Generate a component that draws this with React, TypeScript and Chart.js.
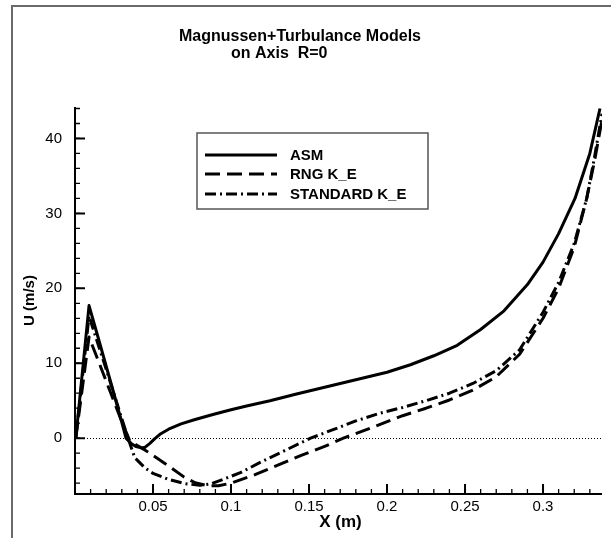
import React, { useEffect, useRef } from 'react';
import { Chart, registerables } from 'chart.js';

Chart.register(...registerables);

// ---------------- data ----------------
const titleLines = ['Magnussen+Turbulance Models', 'on Axis  R=0'];
const xAxisTitle = 'X (m)';
const yAxisTitle = 'U (m/s)';
const seriesNames = ['ASM', 'RNG K_E', 'STANDARD K_E'];

const asmX = [0.0005, 0.009, 0.015, 0.02, 0.025, 0.03, 0.0327, 0.036, 0.039, 0.0428, 0.045, 0.048, 0.051, 0.055, 0.06, 0.068, 0.077, 0.089, 0.1, 0.11, 0.125, 0.142, 0.16, 0.174, 0.19, 0.2, 0.215, 0.23, 0.245, 0.26, 0.275, 0.29, 0.3, 0.31, 0.3205, 0.33, 0.3365];
const asmY = [0, 17.7, 13.3, 9.6, 5.9, 2.1, 0, -0.7, -1.1, -1.3, -1.2, -0.7, -0.1, 0.6, 1.2, 1.9, 2.5, 3.2, 3.8, 4.3, 5.0, 5.9, 6.8, 7.5, 8.3, 8.8, 9.8, 11.0, 12.4, 14.5, 17.0, 20.5, 23.5, 27.3, 32.0, 38.0, 44.0];

const rngX = [0.0005, 0.009, 0.015, 0.02, 0.025, 0.03, 0.035, 0.04, 0.045, 0.05, 0.06, 0.07, 0.077, 0.085, 0.092, 0.1, 0.115, 0.13, 0.145, 0.16, 0.172, 0.19, 0.21, 0.225, 0.24, 0.255, 0.27, 0.285, 0.3, 0.31, 0.32, 0.328, 0.333, 0.3378];
const rngY = [0, 13.5, 10.3, 7.6, 4.9, 2.2, -0.3, -1.0, -1.6, -2.3, -3.7, -5.2, -5.95, -6.35, -6.35, -6.0, -4.9, -3.6, -2.3, -1.1, 0, 1.4, 3.0, 4.0, 5.1, 6.4, 8.2, 11.2, 16.0, 20.0, 25.5, 32.0, 37.0, 42.5];

const stdX = [0.0005, 0.009, 0.015, 0.02, 0.025, 0.03, 0.034, 0.0383, 0.045, 0.05, 0.06, 0.07, 0.08, 0.087, 0.095, 0.106, 0.12, 0.135, 0.151, 0.165, 0.18, 0.195, 0.21, 0.225, 0.24, 0.255, 0.27, 0.285, 0.3, 0.31, 0.32, 0.328, 0.333, 0.3378];
const stdY = [0, 16.3, 12.4, 9.2, 5.9, 2.6, 0, -2.6, -4.0, -4.7, -5.5, -6.05, -6.3, -6.1, -5.5, -4.6, -3.1, -1.6, 0, 1.1, 2.3, 3.3, 4.1, 5.0, 6.0, 7.3, 9.0, 11.8, 16.8, 20.8, 26.0, 32.0, 37.5, 43.3];

const xMin = 0;
const xMax = 0.3378;
const yMin = -7.45;
const yMax = 44.2;
const xStep = 0.05;
const yStep = 10;
const xMinorStep = 0.01;
const yMinorStep = 2;

const FONT = "'Liberation Sans', Arial, Helvetica, sans-serif";

const toPoints = (xs: number[], ys: number[]) => xs.map((x, i) => ({ x, y: ys[i] }));

const decorPlugin = {
  id: 'decor',
  beforeDatasetsDraw(chart: any) {
    const { ctx, chartArea: a, scales } = chart;
    const y = scales.y;
    ctx.save();
    ctx.strokeStyle = '#000';
    ctx.lineWidth = 1;
    ctx.setLineDash([1, 2]);
    const y0 = Math.round(y.getPixelForValue(0)) + 0.5;
    ctx.beginPath();
    ctx.moveTo(a.left, y0);
    ctx.lineTo(a.right, y0);
    ctx.stroke();
    ctx.restore();
  },
  afterDraw(chart: any) {
    const { ctx, chartArea: a, scales } = chart;
    const x = scales.x;
    const y = scales.y;
    ctx.save();

    // outer frame
    ctx.strokeStyle = '#6a6a6a';
    ctx.lineWidth = 2;
    ctx.strokeRect(12, 6, 800, 800);

    // axis lines
    ctx.strokeStyle = '#000';
    ctx.lineWidth = 2;
    ctx.beginPath();
    ctx.moveTo(a.left, a.top);
    ctx.lineTo(a.left, a.bottom);
    ctx.lineTo(a.right, a.bottom);
    ctx.stroke();

    // minor ticks
    ctx.lineWidth = 1.3;
    ctx.beginPath();
    for (let v = Math.ceil(x.min / xMinorStep) * xMinorStep; v <= x.max + 1e-9; v += xMinorStep) {
      const px = x.getPixelForValue(v);
      if (px <= a.left + 1) continue;
      ctx.moveTo(px, a.bottom);
      ctx.lineTo(px, a.bottom - 5);
    }
    for (let v = Math.ceil(y.min / yMinorStep) * yMinorStep; v <= y.max + 1e-9; v += yMinorStep) {
      const py = y.getPixelForValue(v);
      if (py >= a.bottom - 1) continue;
      ctx.moveTo(a.left, py);
      ctx.lineTo(a.left + 5, py);
    }
    ctx.stroke();

    // major ticks
    ctx.lineWidth = 2;
    ctx.beginPath();
    x.ticks.forEach((t: any) => {
      const px = x.getPixelForValue(t.value);
      if (px <= a.left + 1) return;
      ctx.moveTo(px, a.bottom);
      ctx.lineTo(px, a.bottom - 10);
    });
    y.ticks.forEach((t: any) => {
      const py = y.getPixelForValue(t.value);
      ctx.moveTo(a.left, py);
      ctx.lineTo(a.left + 10, py);
    });
    ctx.stroke();

    // title
    ctx.fillStyle = '#000';
    ctx.font = `bold 16px ${FONT}`;
    ctx.textBaseline = 'middle';
    ctx.textAlign = 'center';
    ctx.fillText(titleLines[0], 300, 37);
    ctx.textAlign = 'left';
    ctx.fillText(titleLines[1], 231, 54);

    // axis titles
    ctx.font = `bold 17px ${FONT}`;
    ctx.textAlign = 'center';
    ctx.fillText(xAxisTitle, (a.left + a.right) / 2 + 2, 522);
    ctx.save();
    ctx.translate(30, (a.top + a.bottom) / 2);
    ctx.rotate(-Math.PI / 2);
    ctx.font = `bold 15px ${FONT}`;
    ctx.fillText(yAxisTitle, 0, 0);
    ctx.restore();

    // legend
    const bx = 197, by = 133, bw = 231, bh = 76;
    ctx.fillStyle = '#fff';
    ctx.fillRect(bx, by, bw, bh);
    ctx.strokeStyle = '#555';
    ctx.lineWidth = 1.5;
    ctx.strokeRect(bx, by, bw, bh);
    const rows = [155, 174, 194];
    chart.data.datasets.forEach((ds: any, i: number) => {
      ctx.strokeStyle = '#000';
      ctx.lineWidth = ds.borderWidth;
      ctx.setLineDash(ds.borderDash || []);
      ctx.beginPath();
      ctx.moveTo(205, rows[i]);
      ctx.lineTo(277, rows[i]);
      ctx.stroke();
      ctx.setLineDash([]);
      ctx.fillStyle = '#000';
      ctx.font = `bold 15px ${FONT}`;
      ctx.textAlign = 'left';
      ctx.textBaseline = 'middle';
      ctx.fillText(ds.label, 290, rows[i] + 1);
    });

    ctx.restore();
  },
};

export default function App() {
  const canvasRef = useRef<HTMLCanvasElement | null>(null);

  useEffect(() => {
    const canvas = canvasRef.current;
    if (!canvas) return;
    const chart = new Chart(canvas, {
      type: 'line',
      data: {
        datasets: [
          {
            label: seriesNames[0],
            data: toPoints(asmX, asmY),
            borderColor: '#000',
            borderWidth: 3,
            pointRadius: 0,
            tension: 0,
            fill: false,
          },
          {
            label: seriesNames[1],
            data: toPoints(rngX, rngY),
            borderColor: '#000',
            borderWidth: 3,
            borderDash: [15, 7],
            pointRadius: 0,
            tension: 0,
            fill: false,
          },
          {
            label: seriesNames[2],
            data: toPoints(stdX, stdY),
            borderColor: '#000',
            borderWidth: 3,
            borderDash: [11, 4, 2, 4],
            pointRadius: 0,
            tension: 0,
            fill: false,
          },
        ],
      },
      options: {
        animation: false,
        responsive: false,
        devicePixelRatio: 1,
        layout: { padding: { left: 0, right: 9, top: 107, bottom: 0 } },
        plugins: {
          legend: { display: false },
          tooltip: { enabled: false },
          title: { display: false },
        },
        elements: { line: { borderCapStyle: 'butt', borderJoinStyle: 'round' } },
        scales: {
          x: {
            type: 'linear',
            min: xMin,
            max: xMax,
            grid: { display: false, drawTicks: false },
            border: { display: false },
            ticks: {
              stepSize: xStep,
              includeBounds: false,
              autoSkip: false,
              maxRotation: 0,
              padding: 4,
              color: '#000',
              font: { family: FONT, size: 15 },
              callback: (v: any) => (Math.abs(Number(v)) < 1e-9 ? '' : String(+Number(v).toFixed(3))),
            },
            afterFit: (s: any) => {
              s.height = 44;
            },
          },
          y: {
            type: 'linear',
            min: yMin,
            max: yMax,
            grid: { display: false, drawTicks: false },
            border: { display: false },
            ticks: {
              stepSize: yStep,
              includeBounds: false,
              autoSkip: false,
              padding: 13,
              color: '#000',
              font: { family: FONT, size: 15 },
              callback: (v: any) => String(Math.round(Number(v))),
            },
            afterFit: (s: any) => {
              s.width = 75;
            },
          },
        },
      },
      plugins: [decorPlugin],
    });
    return () => chart.destroy();
  }, []);

  return (
    <div style={{ position: 'absolute', left: 0, top: 0, width: 611, height: 538, background: '#fff' }}>
      <canvas ref={canvasRef} width={611} height={538} style={{ display: 'block', width: 611, height: 538 }} />
    </div>
  );
}
